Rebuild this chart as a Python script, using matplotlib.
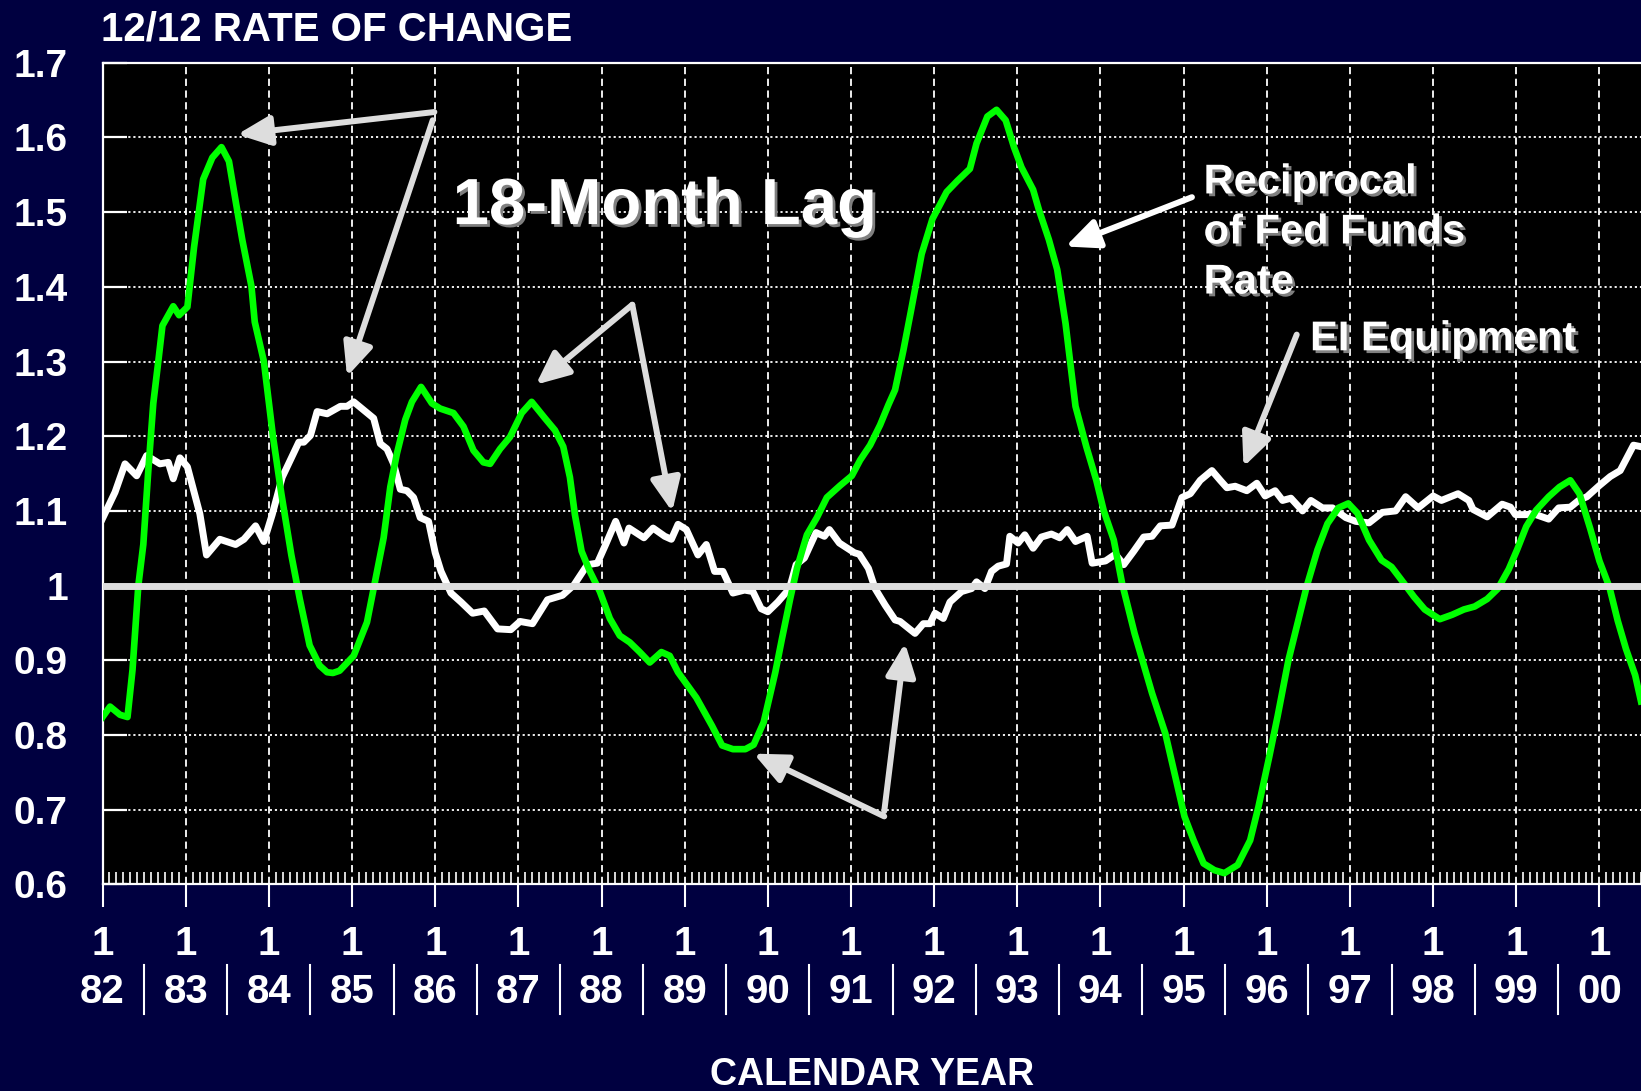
import numpy as np
import matplotlib.pyplot as plt
import matplotlib.patheffects as pe
from matplotlib.ticker import MultipleLocator, FuncFormatter

plt.rcParams['font.family'] = ['Liberation Sans', 'DejaVu Sans']
plt.rcParams['font.weight'] = 'bold'

# EI Equipment, 12/12 rate of change
ei_time = [1982.00, 1982.15, 1982.27, 1982.41, 1982.53, 1982.69, 1982.79, 1982.85, 1982.93, 1983.02,
           1983.17, 1983.25, 1983.41, 1983.60, 1983.70, 1983.84, 1983.94, 1984.04, 1984.16, 1984.36,
           1984.42, 1984.50, 1984.58, 1984.70, 1984.86, 1984.94, 1985.02, 1985.14, 1985.26, 1985.34,
           1985.42, 1985.50, 1985.58, 1985.66, 1985.74, 1985.82, 1985.92, 1986.00, 1986.07, 1986.19,
           1986.31, 1986.45, 1986.59, 1986.75, 1986.91, 1987.02, 1987.17, 1987.35, 1987.53, 1987.67,
           1987.83, 1987.95, 1988.05, 1988.17, 1988.27, 1988.33, 1988.51, 1988.62, 1988.76, 1988.84,
           1988.92, 1989.02, 1989.16, 1989.26, 1989.36, 1989.46, 1989.58, 1989.72, 1989.82, 1989.92,
           1990.00, 1990.12, 1990.26, 1990.34, 1990.44, 1990.58, 1990.68, 1990.74, 1990.86, 1991.04,
           1991.10, 1991.21, 1991.29, 1991.41, 1991.53, 1991.59, 1991.77, 1991.87, 1991.95, 1992.01,
           1992.11, 1992.19, 1992.33, 1992.45, 1992.51, 1992.61, 1992.69, 1992.77, 1992.87, 1992.91,
           1993.01, 1993.09, 1993.19, 1993.29, 1993.41, 1993.51, 1993.60, 1993.70, 1993.84, 1993.90,
           1994.06, 1994.18, 1994.28, 1994.40, 1994.52, 1994.62, 1994.72, 1994.86, 1994.98, 1995.08,
           1995.20, 1995.34, 1995.44, 1995.52, 1995.62, 1995.76, 1995.88, 1995.98, 1996.10, 1996.19,
           1996.29, 1996.43, 1996.53, 1996.67, 1996.79, 1996.95, 1997.07, 1997.23, 1997.39, 1997.55,
           1997.67, 1997.82, 1998.00, 1998.10, 1998.30, 1998.43, 1998.48, 1998.65, 1998.83, 1998.93,
           1998.99, 1999.11, 1999.21, 1999.39, 1999.51, 1999.65, 1999.75, 1999.85, 2000.00, 2000.13,
           2000.25, 2000.41, 2000.50]
ei_value = [1.090, 1.125, 1.163, 1.147, 1.174, 1.163, 1.165, 1.143, 1.171, 1.159,
            1.096, 1.041, 1.062, 1.055, 1.062, 1.080, 1.059, 1.095, 1.145, 1.192,
            1.192, 1.201, 1.233, 1.230, 1.240, 1.240, 1.246, 1.235, 1.224, 1.190,
            1.183, 1.163, 1.129, 1.127, 1.118, 1.091, 1.086, 1.044, 1.019, 0.990,
            0.978, 0.963, 0.966, 0.942, 0.941, 0.952, 0.949, 0.981, 0.987, 1.001,
            1.028, 1.030, 1.055, 1.086, 1.057, 1.077, 1.064, 1.077, 1.066, 1.062,
            1.082, 1.075, 1.041, 1.055, 1.019, 1.019, 0.990, 0.994, 0.992, 0.969,
            0.965, 0.978, 0.996, 1.028, 1.037, 1.071, 1.066, 1.075, 1.057, 1.044,
            1.042, 1.023, 0.996, 0.974, 0.954, 0.952, 0.936, 0.949, 0.949, 0.963,
            0.956, 0.978, 0.992, 0.996, 1.005, 0.996, 1.019, 1.026, 1.029, 1.066,
            1.057, 1.068, 1.050, 1.065, 1.069, 1.064, 1.075, 1.059, 1.066, 1.030,
            1.033, 1.042, 1.028, 1.046, 1.065, 1.066, 1.080, 1.081, 1.118, 1.123,
            1.141, 1.154, 1.141, 1.131, 1.133, 1.127, 1.137, 1.120, 1.127, 1.114,
            1.117, 1.100, 1.114, 1.104, 1.104, 1.091, 1.086, 1.084, 1.098, 1.100,
            1.119, 1.104, 1.120, 1.114, 1.123, 1.114, 1.102, 1.092, 1.109, 1.105,
            1.095, 1.095, 1.096, 1.089, 1.104, 1.105, 1.114, 1.119, 1.134, 1.146,
            1.154, 1.188, 1.186]

# Reciprocal of Fed Funds rate, 18-month lag
ff_time = [1982.00, 1982.09, 1982.21, 1982.30, 1982.36, 1982.43, 1982.49, 1982.55, 1982.61, 1982.67,
           1982.72, 1982.85, 1982.92, 1983.02, 1983.10, 1983.21, 1983.32, 1983.43, 1983.52, 1983.60,
           1983.68, 1983.79, 1983.83, 1983.94, 1984.05, 1984.15, 1984.27, 1984.37, 1984.49, 1984.61,
           1984.70, 1984.77, 1984.85, 1985.02, 1985.18, 1985.30, 1985.38, 1985.46, 1985.54, 1985.64,
           1985.72, 1985.83, 1985.96, 1986.06, 1986.22, 1986.34, 1986.46, 1986.58, 1986.66, 1986.78,
           1986.90, 1987.04, 1987.16, 1987.32, 1987.44, 1987.54, 1987.62, 1987.68, 1987.76, 1987.86,
           1987.98, 1988.10, 1988.22, 1988.34, 1988.46, 1988.58, 1988.72, 1988.82, 1988.92, 1989.01,
           1989.14, 1989.33, 1989.45, 1989.58, 1989.73, 1989.83, 1989.95, 1990.09, 1990.17, 1990.27,
           1990.35, 1990.47, 1990.59, 1990.71, 1990.87, 1991.01, 1991.11, 1991.23, 1991.35, 1991.45,
           1991.53, 1991.63, 1991.72, 1991.85, 1991.98, 1992.15, 1992.28, 1992.43, 1992.51, 1992.64,
           1992.75, 1992.86, 1992.96, 1993.05, 1993.19, 1993.26, 1993.38, 1993.48, 1993.58, 1993.70,
           1993.83, 1993.95, 1994.04, 1994.16, 1994.26, 1994.41, 1994.62, 1994.78, 1994.89, 1995.01,
           1995.12, 1995.24, 1995.37, 1995.49, 1995.65, 1995.80, 1995.90, 1996.03, 1996.13, 1996.26,
           1996.36, 1996.48, 1996.61, 1996.73, 1996.86, 1996.98, 1997.09, 1997.23, 1997.38, 1997.50,
           1997.65, 1997.77, 1997.90, 1998.08, 1998.23, 1998.37, 1998.50, 1998.65, 1998.78, 1998.91,
           1999.01, 1999.12, 1999.24, 1999.39, 1999.52, 1999.65, 1999.76, 1999.89, 2000.00, 2000.12,
           2000.22, 2000.32, 2000.43, 2000.50]
ff_value = [0.824, 0.838, 0.827, 0.824, 0.887, 1.000, 1.055, 1.154, 1.244, 1.300,
            1.348, 1.374, 1.362, 1.373, 1.453, 1.544, 1.573, 1.587, 1.568, 1.515,
            1.463, 1.401, 1.353, 1.300, 1.199, 1.123, 1.041, 0.983, 0.920, 0.893,
            0.884, 0.883, 0.886, 0.906, 0.951, 1.019, 1.064, 1.132, 1.177, 1.222,
            1.246, 1.266, 1.244, 1.237, 1.231, 1.213, 1.181, 1.165, 1.163, 1.183,
            1.199, 1.231, 1.246, 1.224, 1.208, 1.186, 1.145, 1.095, 1.046, 1.019,
            0.992, 0.956, 0.933, 0.924, 0.911, 0.897, 0.911, 0.906, 0.884, 0.870,
            0.850, 0.812, 0.786, 0.781, 0.781, 0.787, 0.817, 0.884, 0.929, 0.983,
            1.023, 1.068, 1.091, 1.118, 1.134, 1.147, 1.168, 1.188, 1.215, 1.242,
            1.262, 1.315, 1.367, 1.444, 1.491, 1.527, 1.542, 1.558, 1.592, 1.628,
            1.637, 1.623, 1.587, 1.560, 1.530, 1.503, 1.463, 1.423, 1.351, 1.240,
            1.186, 1.141, 1.100, 1.061, 1.003, 0.936, 0.856, 0.802, 0.749, 0.691,
            0.659, 0.628, 0.619, 0.615, 0.626, 0.659, 0.704, 0.771, 0.825, 0.900,
            0.945, 0.999, 1.048, 1.083, 1.104, 1.110, 1.097, 1.061, 1.034, 1.025,
            1.003, 0.985, 0.968, 0.955, 0.961, 0.968, 0.972, 0.982, 0.996, 1.022,
            1.048, 1.079, 1.101, 1.119, 1.132, 1.141, 1.123, 1.076, 1.033, 0.998,
            0.953, 0.915, 0.880, 0.845]

years = list(range(1982, 2001))
year_labels = ['%02d' % (y % 100) for y in years]

navy = '#000040'
arrow_grey = '#dddddd'
shadow = [pe.withSimplePatchShadow(offset=(2, -2), shadow_rgbFace='#7f7f7f', alpha=1.0)]

fig = plt.figure(figsize=(16.41, 10.91), dpi=100, facecolor=navy)
ax = fig.add_axes([0.0625, 0.1894, 0.9375, 0.7531])
ax.set_facecolor('black')
ax.set_xlim(1982, 2000.5)
ax.set_ylim(0.6, 1.7)

# grid
for yr in years[1:]:
    ax.axvline(yr, color='white', lw=1.3, dashes=(4, 2.5), zorder=1)
for yv in np.arange(0.7, 1.65, 0.1):
    ax.axhline(yv, color='white', lw=1.3, dashes=(1.2, 1.6), zorder=1)

ax.plot(ei_time, ei_value, color='white', lw=5.0, zorder=3, solid_joinstyle='round')
ax.plot(ff_time, ff_value, color='#00ff00', lw=4.8, zorder=4, solid_joinstyle='round')
ax.axhline(1.0, color=arrow_grey, lw=5, zorder=5)

for side in ['left', 'top', 'bottom']:
    ax.spines[side].set_color('white')
    ax.spines[side].set_linewidth(1.6)
ax.spines['right'].set_visible(False)

ax.set_yticks(np.arange(0.6, 1.71, 0.1))
ax.yaxis.set_major_formatter(FuncFormatter(lambda v, p: '%g' % round(v, 1)))
ax.tick_params(axis='y', direction='in', length=17, width=1.6, color='white',
               labelcolor='white', labelsize=28, pad=25)

ax.set_xticks(years)
ax.set_xticklabels([])
ax.xaxis.set_minor_locator(MultipleLocator(1 / 12))
ax.tick_params(axis='x', which='major', direction='out', length=16.5, width=1.5, color='white')
ax.tick_params(axis='x', which='minor', direction='in', length=8.6, width=1.2, color='white')

xt = ax.get_xaxis_transform()
for yr, lab in zip(years, year_labels):
    ax.text(yr, -0.0859, '1', transform=xt, ha='center', va='baseline',
            color='white', fontsize=29, fontweight='bold')
    ax.text(yr, -0.1447, lab, transform=xt, ha='center', va='baseline',
            color='white', fontsize=29, fontweight='bold')
for yr in years[:-1]:
    ax.plot([yr + 0.5, yr + 0.5], [-0.0981, -0.1577], transform=xt,
            color='white', lw=1.5, clip_on=False)

fig.text(0.0618, 0.9633, '12/12 RATE OF CHANGE', color='white', fontsize=29,
         fontweight='bold', ha='left', va='baseline')
fig.text(871.8 / 1641, 0.0055, 'CALENDAR YEAR', color='white', fontsize=27,
         fontweight='bold', ha='center', va='baseline')

# annotations
ax.text(1986.21, 1.484, '18-Month Lag', color='white', fontsize=47, fontweight='bold',
        ha='left', va='baseline', zorder=7, path_effects=shadow)
for txt, yb in [('Reciprocal', 1.525), ('of Fed Funds', 1.458), ('Rate', 1.391)]:
    ax.text(1995.24, yb, txt, color='white', fontsize=30, fontweight='bold',
            ha='left', va='baseline', zorder=7, path_effects=shadow)
ax.text(1996.52, 1.315, 'EI Equipment', color='white', fontsize=30, fontweight='bold',
        ha='left', va='baseline', zorder=7, path_effects=shadow)

arrows = [
    ((1985.99, 1.634), (1983.62, 1.604), arrow_grey),
    ((1985.97, 1.623), (1984.94, 1.280), arrow_grey),
    ((1988.37, 1.376), (1987.21, 1.269), arrow_grey),
    ((1988.37, 1.376), (1988.85, 1.099), arrow_grey),
    ((1991.40, 0.691), (1989.83, 0.775), arrow_grey),
    ((1991.40, 0.698), (1991.65, 0.923), arrow_grey),
    ((1995.10, 1.520), (1993.58, 1.454), 'white'),
    ((1996.36, 1.336), (1995.72, 1.159), arrow_grey),
]
for start, tip, col in arrows:
    ax.annotate('', xy=tip, xytext=start, zorder=6,
                arrowprops=dict(arrowstyle='-|>,head_length=1.0,head_width=0.45',
                                mutation_scale=20, lw=4.3, color=col,
                                shrinkA=0, shrinkB=0))

fig.savefig('out.png', dpi=100, facecolor=navy)
